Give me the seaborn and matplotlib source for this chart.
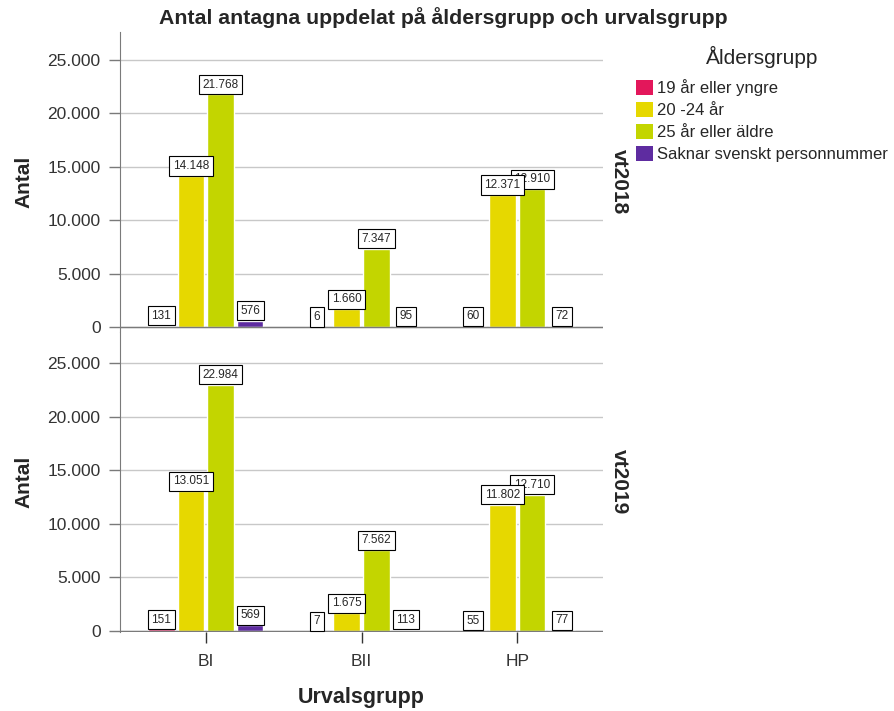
import numpy as np
import pandas as pd
import matplotlib
matplotlib.use("Agg")
import matplotlib.pyplot as plt
import matplotlib.ticker as mticker
from matplotlib.patches import Patch
import seaborn as sns

# data
urvalsgrupper = ["BI", "BII", "HP"]
aldersgrupper = ["19 år eller yngre", "20 -24 år", "25 år eller äldre", "Saknar svenskt personnummer"]
terminer = ["vt2018", "vt2019"]

vt2018_bi = [131, 14148, 21768, 576]
vt2018_bii = [6, 1660, 7347, 95]
vt2018_hp = [60, 12371, 12910, 72]
vt2019_bi = [151, 13051, 22984, 569]
vt2019_bii = [7, 1675, 7562, 113]
vt2019_hp = [55, 11802, 12710, 77]

farger = ["#E3175B", "#E6D800", "#C3D500", "#5E2CA0"]

rows = []
for termin, serie in [("vt2018", [vt2018_bi, vt2018_bii, vt2018_hp]),
                      ("vt2019", [vt2019_bi, vt2019_bii, vt2019_hp])]:
    for grupp, vals in zip(urvalsgrupper, serie):
        for alder, v in zip(aldersgrupper, vals):
            rows.append({"Termin": termin, "Urvalsgrupp": grupp, "Åldersgrupp": alder, "Antal": v})
df = pd.DataFrame(rows)

sns.set_style("white")
plt.rcParams['font.family'] = ['Liberation Sans', 'DejaVu Sans']

fig, axes = plt.subplots(2, 1, figsize=(8.95, 7.11), dpi=100, sharex=True)
fig.subplots_adjust(left=120/895, right=603/895, top=1-32/711, bottom=1-632/711, hspace=0)

def sv_fmt(v, pos=None):
    return f"{int(v):,}".replace(",", ".")

ylims = [(-470, 27620), (-90, 27900)]
for ax, termin, ylim in zip(axes, terminer, ylims):
    sub = df[df["Termin"] == termin]
    sns.barplot(data=sub, x="Urvalsgrupp", y="Antal", hue="Åldersgrupp",
                hue_order=aldersgrupper, order=urvalsgrupper, palette=farger,
                saturation=1, width=0.76, gap=0.1, legend=False, ax=ax, zorder=3)
    ax.set_ylim(*ylim)
    ax.set_xlim(-0.55, 2.55)
    ax.set_yticks([0, 5000, 10000, 15000, 20000, 25000])
    ax.yaxis.set_major_formatter(mticker.FuncFormatter(sv_fmt))
    ax.tick_params(axis='y', left=True, length=8, width=1, color='#7a7a7a',
                   labelsize=12.5, pad=6, labelcolor='#333333')
    ax.grid(axis='y', color='#c8c8c8', lw=1, zorder=0)
    ax.axhline(0, color='#7a7a7a', lw=1, zorder=4)
    for s in ['top', 'right', 'bottom']:
        ax.spines[s].set_visible(False)
    ax.spines['left'].set_color('#7a7a7a')
    ax.set_ylabel("Antal", fontsize=15, fontweight='bold', labelpad=10)
    ax.set_xlabel("")
    ax.text(1.035, 0.5, termin, transform=ax.transAxes, rotation=270,
            ha='center', va='center', fontsize=15, fontweight='bold')

    # value labels, earlier hues drawn on top
    n = len(ax.containers)
    for i, cont in enumerate(ax.containers):
        for bar in cont:
            v = bar.get_height()
            ax.annotate(sv_fmt(v), (bar.get_x() + bar.get_width() / 2, v),
                        xytext=(0, 2.8), textcoords='offset points',
                        ha='center', va='bottom', fontsize=8.5,
                        bbox=dict(boxstyle='square,pad=0.3', fc='white', ec='black', lw=0.8),
                        zorder=10 + n - i)

axes[0].tick_params(axis='x', bottom=False)
axes[1].tick_params(axis='x', bottom=True, length=8, width=1, color='#333333',
                    labelsize=12.5, pad=8, labelcolor='#333333')
axes[1].set_xlabel("Urvalsgrupp", fontsize=15.5, fontweight='bold', labelpad=13)

fig.suptitle("Antal antagna uppdelat på åldersgrupp och urvalsgrupp",
             fontsize=15.3, fontweight='bold', x=443/895, y=1-18/711, va='center')

handles = [Patch(facecolor=c, edgecolor='none') for c in farger]
leg = fig.legend(handles, aldersgrupper, title="Åldersgrupp", loc='upper left',
                 bbox_to_anchor=(636/895, 1-46/711), frameon=False, fontsize=12,
                 title_fontsize=15, handlelength=1.0, handleheight=1.0,
                 handletextpad=0.25, labelspacing=0.35, borderpad=0, borderaxespad=0)
leg._legend_box.sep = 8

fig.savefig("out.png", dpi=100)
